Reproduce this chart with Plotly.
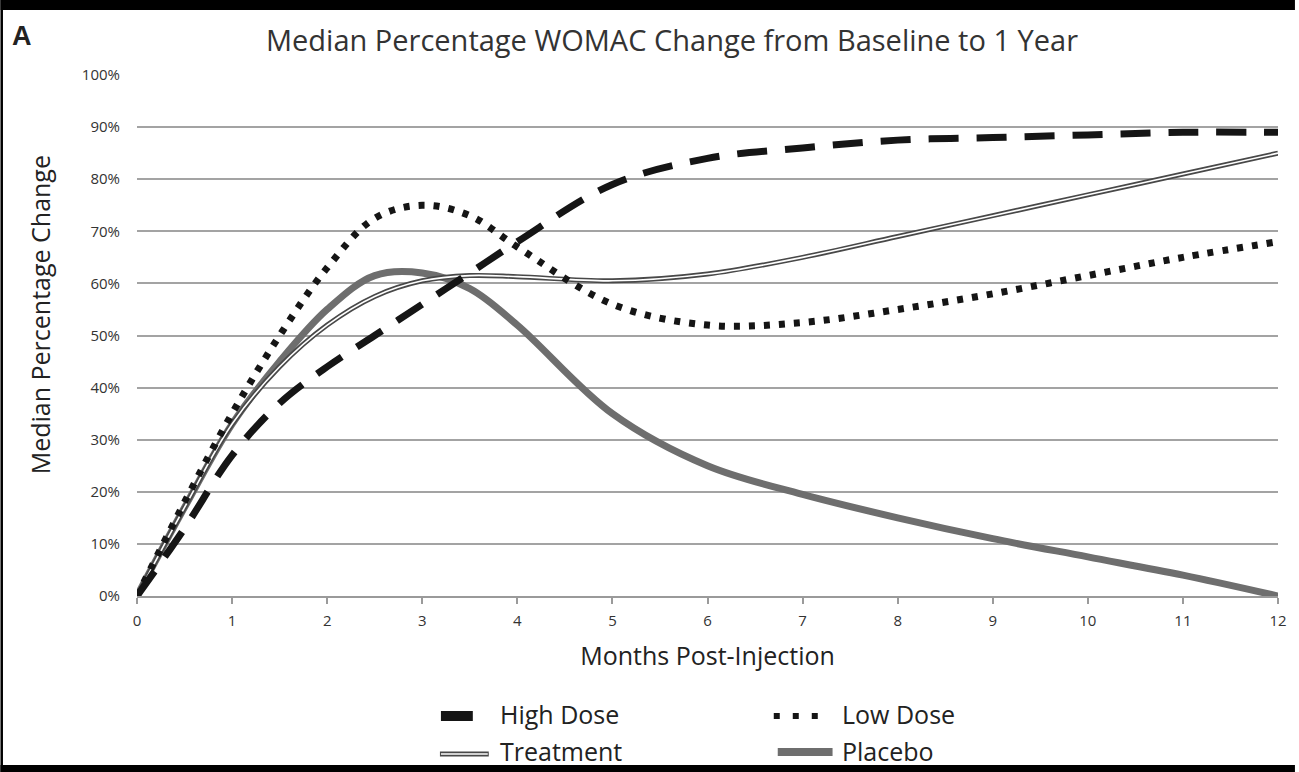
import plotly.graph_objects as go

months = [0, 0.5, 1, 1.5, 2, 2.5, 3, 3.5, 4, 5, 6, 7, 8, 9, 10, 11, 12]
high_dose = [0, 13, 27, 37, 44, 50, 56, 62, 68, 79, 84, 86, 87.5, 88, 88.5, 89, 89]
low_dose = [0, 18, 35, 50, 63, 72.5, 75, 73, 67, 56, 52, 52.5, 55, 58, 61.5, 65, 68]
treatment = [0, 17, 33, 44, 52, 57.5, 60.5, 61.5, 61.3, 60.5, 61.8, 65, 69, 73, 77, 81, 85]
placebo = [0, 17, 33, 45, 55, 61.5, 62, 59, 52, 35, 25, 19.5, 15, 11, 7.5, 4, 0]

x_ticks = list(range(0, 13))
y_ticks = list(range(0, 101, 10))
y_tick_labels = [f"{v}%" for v in y_ticks]

FONT = "Open Sans"
W, H = 1299, 772
L, R, T, B = 137, 17, 75, 176
PW, PH = W - L - R, H - T - B


def px(xp):
    return (xp - L) / PW


def py(yp):
    return (H - B - yp) / PH


fig = go.Figure()
fig.add_trace(go.Scatter(x=months, y=placebo, mode="lines", name="Placebo",
                         line=dict(color="#6e6e6e", width=7, shape="spline")))
fig.add_trace(go.Scatter(x=months, y=treatment, mode="lines", name="Treatment",
                         line=dict(color="#484848", width=5, shape="spline")))
fig.add_trace(go.Scatter(x=months, y=treatment, mode="lines", name="Treatment inner",
                         line=dict(color="#ffffff", width=1.6, shape="spline")))
fig.add_trace(go.Scatter(x=months, y=low_dose, mode="lines", name="Low Dose",
                         line=dict(color="#151515", width=7, shape="spline", dash="6px,9px")))
fig.add_trace(go.Scatter(x=months, y=high_dose, mode="lines", name="High Dose",
                         line=dict(color="#151515", width=7, shape="spline", dash="30px,18px")))

shapes = []
# frame bars
shapes.append(dict(type="rect", xref="paper", yref="paper", x0=px(0), x1=px(W),
                   y0=py(10), y1=py(0), fillcolor="black", line=dict(width=0), layer="above"))
shapes.append(dict(type="rect", xref="paper", yref="paper", x0=px(0), x1=px(W),
                   y0=py(H), y1=py(765), fillcolor="black", line=dict(width=0), layer="above"))
shapes.append(dict(type="rect", xref="paper", yref="paper", x0=px(0), x1=px(2.5),
                   y0=py(H), y1=py(0), fillcolor="black", line=dict(width=0), layer="above"))
# legend symbols
shapes.append(dict(type="line", xref="paper", yref="paper", x0=px(442), x1=px(474),
                   y0=py(716), y1=py(716), line=dict(color="#151515", width=10)))
shapes.append(dict(type="line", xref="paper", yref="paper", x0=px(776), x1=px(822),
                   y0=py(716), y1=py(716), line=dict(color="#151515", width=6, dash="6px,13px")))
shapes.append(dict(type="line", xref="paper", yref="paper", x0=px(441), x1=px(490),
                   y0=py(754), y1=py(754), line=dict(color="#484848", width=5)))
shapes.append(dict(type="line", xref="paper", yref="paper", x0=px(442), x1=px(489),
                   y0=py(754), y1=py(754), line=dict(color="#ffffff", width=1.6)))
shapes.append(dict(type="line", xref="paper", yref="paper", x0=px(780), x1=px(835),
                   y0=py(752), y1=py(752), line=dict(color="#6e6e6e", width=8)))
fig.update_layout(shapes=shapes)

annotations = [
    dict(text="<b>A</b>", x=px(10), y=py(36), xanchor="left", yanchor="middle",
         font=dict(family="Arial", size=27, color="#222222")),
    dict(text="Median Percentage WOMAC Change from Baseline to 1 Year", x=px(674), y=py(39),
         xanchor="center", yanchor="middle", font=dict(family=FONT, size=29, color="#333333")),
    dict(text="Median Percentage Change", x=px(40), y=py(315), textangle=-90,
         xanchor="center", yanchor="middle", font=dict(family=FONT, size=25, color="#222222")),
]
for label, xl, yl in [("High Dose", 499, 714), ("Low Dose", 842, 714),
                      ("Treatment", 499, 751), ("Placebo", 842, 751)]:
    annotations.append(dict(text=label, x=px(xl), y=py(yl), xanchor="left", yanchor="middle",
                            font=dict(family=FONT, size=25, color="#222222")))
for a in annotations:
    a.update(xref="paper", yref="paper", showarrow=False)
fig.update_layout(annotations=annotations)

fig.update_layout(
    width=W, height=H,
    margin=dict(l=L, r=R, t=T, b=B, pad=0),
    paper_bgcolor="white", plot_bgcolor="white",
    showlegend=False,
    font=dict(family=FONT, color="#333333"),
    xaxis=dict(range=[0, 12], tickvals=x_ticks, ticktext=[str(v) for v in x_ticks],
               showgrid=False, zeroline=False, showline=True, linecolor="#9a9a9a", linewidth=2,
               ticks="outside", ticklen=6, tickwidth=2, tickcolor="#9a9a9a", ticklabelstandoff=4,
               tickfont=dict(family=FONT, size=15, color="#333333"),
               title=dict(text="Months Post-Injection", font=dict(family=FONT, size=25, color="#222222"),
                          standoff=18)),
    yaxis=dict(range=[0, 100], tickvals=y_ticks, ticktext=y_tick_labels,
               showgrid=True, gridcolor="#a3a3a3", gridwidth=2, zeroline=False,
               showline=False, ticks="", ticklabelstandoff=16,
               tickfont=dict(family=FONT, size=15, color="#333333")),
)

fig.write_html("out.html", config={"displayModeBar": False},
               post_script="document.body.style.margin='0';document.body.style.overflow='hidden';")
